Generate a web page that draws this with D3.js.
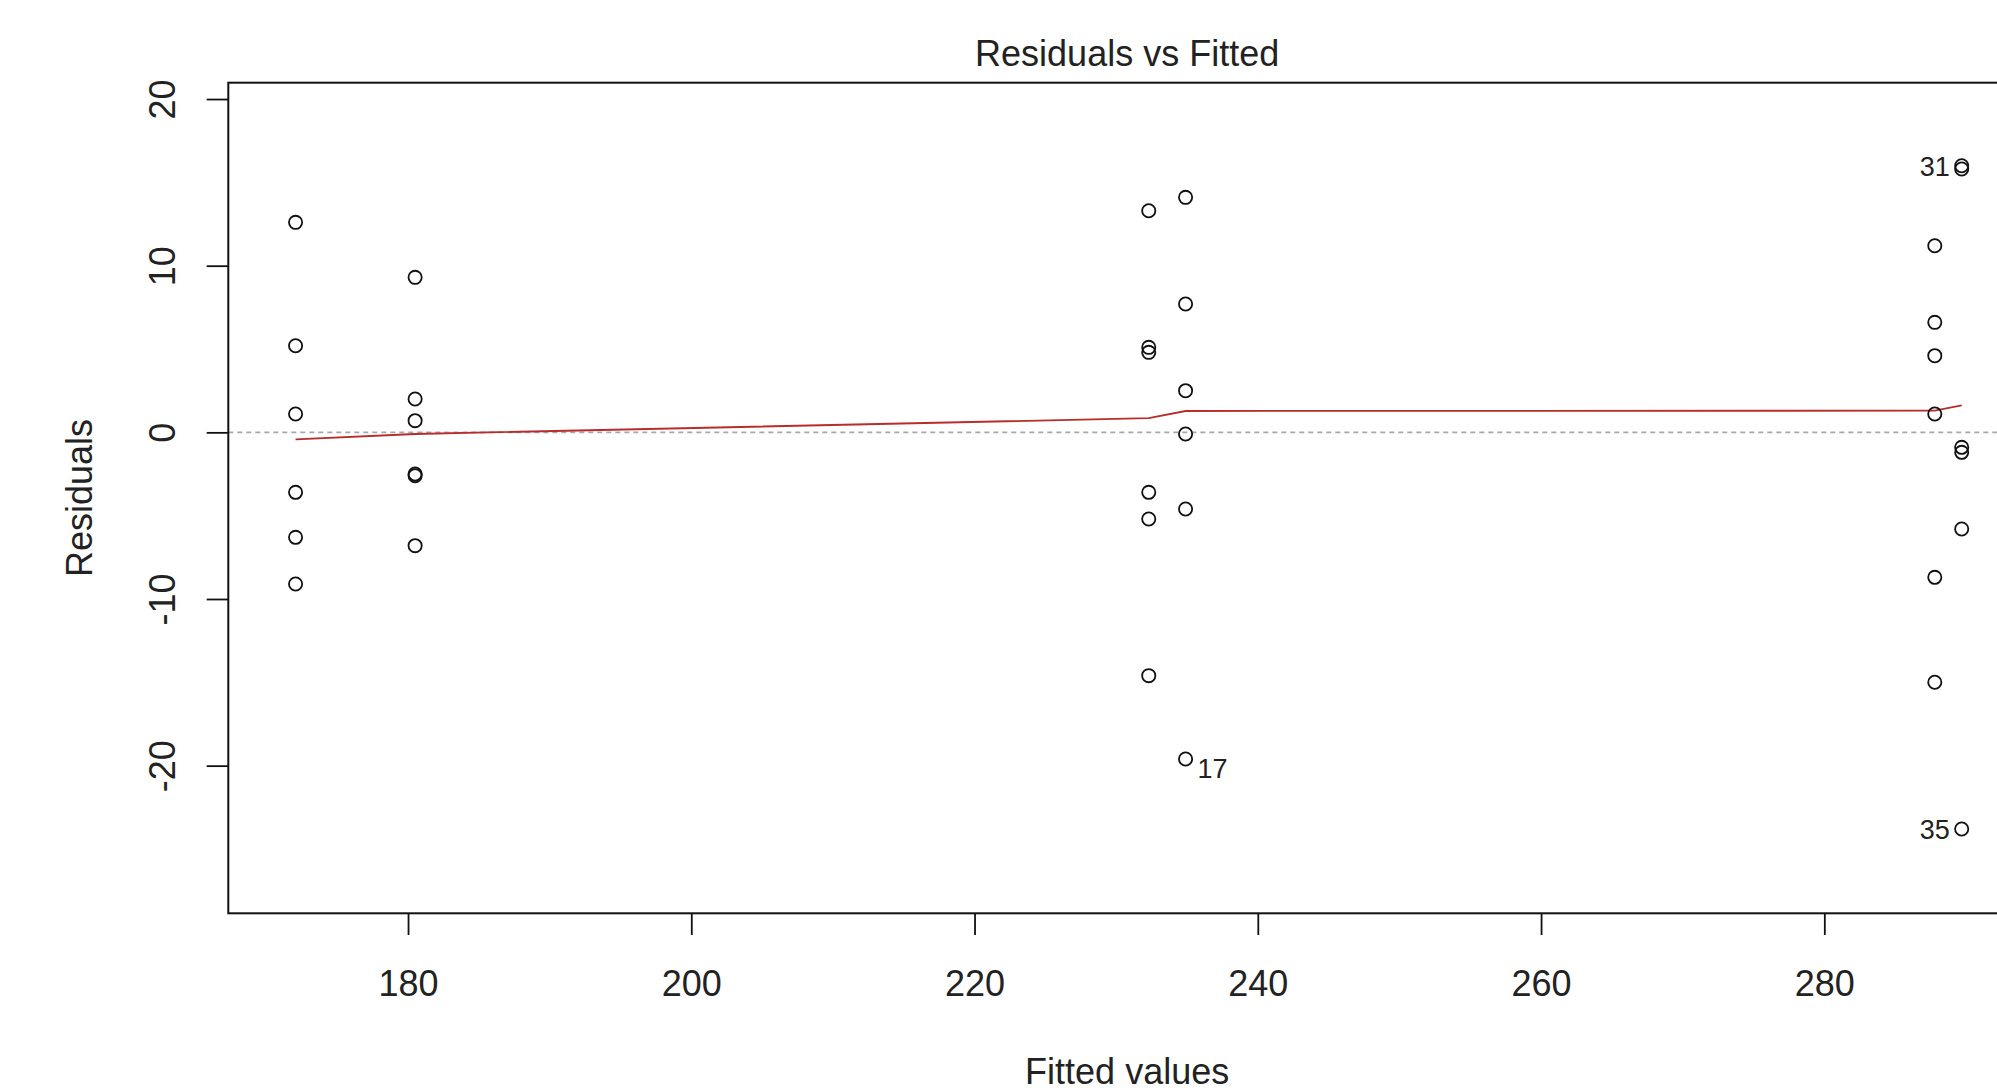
<!DOCTYPE html>
<html>
<head>
<meta charset="utf-8">
<script src="https://cdn.jsdelivr.net/npm/d3@7"></script>
<style>
  html, body { margin: 0; padding: 0; background: #fff; overflow: hidden; }
  svg { display: block; font-family: "Liberation Sans", Arial, sans-serif; }
</style>
</head>
<body>
<svg id="chart" width="1997" height="1091"></svg>
<script>
// ---- data ----
const fittedLevels = [172.06, 180.5, 232.3, 234.9, 287.8, 289.7];
const residualsG1 = [12.6, 5.2, 1.1, -3.6, -6.3, -9.1];
const residualsG2 = [9.3, 2.0, 0.7, -2.5, -2.6, -6.8];
const residualsG3 = [13.3, 5.1, 4.8, -3.6, -5.2, -14.6];
const residualsG4 = [14.1, 7.7, 2.5, -0.1, -4.6, -19.6];
const residualsG5 = [11.2, 6.6, 4.6, 1.1, -8.7, -15.0];
const residualsG6 = [16.0, 15.8, -0.9, -1.2, -5.8, -23.8];
const smoothValues = [-0.42, -0.1, 0.85, 1.28, 1.3, 1.62];
const xTicks = [180, 200, 220, 240, 260, 280];
const yTicks = [-20, -10, 0, 10, 20];
const pointLabels = [
  { id: "31", x: 289.7, y: 16.0, side: "left" },
  { id: "17", x: 234.9, y: -19.6, side: "right" },
  { id: "35", x: 289.7, y: -23.8, side: "left" }
];
const titleText = "Residuals vs Fitted";
const xLabel = "Fitted values";
const yLabel = "Residuals";

(function () {
const residualGroups = [residualsG1, residualsG2, residualsG3, residualsG4, residualsG5, residualsG6];
const points = [];
residualGroups.forEach((g, i) => g.forEach(r => points.push({ x: fittedLevels[i], y: r })));
const smooth = fittedLevels.map((f, i) => ({ x: f, y: smoothValues[i] }));

// ---- layout ----
const svg = d3.select("#chart");
const pLeft = 228.3, pRight = 2026, pTop = 82.7, pBottom = 913.3;
const x = d3.scaleLinear().domain([167.31, 294.24]).range([pLeft, pRight]);
const y = d3.scaleLinear().domain([-28.86, 20.98]).range([pBottom, pTop]);
const font = 36;
const fmt = d => String(d);

// zero reference line
svg.append("line")
  .attr("x1", pLeft).attr("x2", pRight)
  .attr("y1", y(0)).attr("y2", y(0))
  .attr("stroke", "#a8a8a8").attr("stroke-width", 1.6)
  .attr("stroke-dasharray", "5,4");

// smooth line
svg.append("path")
  .datum(smooth)
  .attr("fill", "none")
  .attr("stroke", "#b82c2c")
  .attr("stroke-width", 1.8)
  .attr("d", d3.line().x(d => x(d.x)).y(d => y(d.y)));

// points
svg.append("g").selectAll("circle")
  .data(points).join("circle")
  .attr("cx", d => x(d.x)).attr("cy", d => y(d.y))
  .attr("r", 6.6).attr("fill", "none")
  .attr("stroke", "#111").attr("stroke-width", 1.8);

// point labels
svg.append("g").selectAll("text")
  .data(pointLabels).join("text")
  .attr("x", d => x(d.x) + (d.side === "left" ? -12 : 12))
  .attr("y", d => y(d.y) + (d.side === "right" ? 19 : 10))
  .attr("text-anchor", d => d.side === "left" ? "end" : "start")
  .attr("font-size", 27)
  .attr("fill", "#222")
  .text(d => d.id);

// box
svg.append("rect")
  .attr("x", pLeft).attr("y", pTop)
  .attr("width", pRight - pLeft).attr("height", pBottom - pTop)
  .attr("fill", "none").attr("stroke", "#111").attr("stroke-width", 2);

// x axis
const gx = svg.append("g")
  .attr("transform", `translate(0,${pBottom})`)
  .call(d3.axisBottom(x).tickValues(xTicks).tickSize(21.7).tickSizeOuter(0).tickFormat(fmt));
gx.select(".domain").remove();
gx.selectAll(".tick line").attr("stroke", "#111").attr("stroke-width", 1.8);
gx.selectAll(".tick text")
  .attr("y", 83).attr("dy", 0)
  .attr("font-size", font).attr("font-family", "Liberation Sans, Arial, sans-serif")
  .attr("fill", "#222");

// y axis
const gy = svg.append("g")
  .attr("transform", `translate(${pLeft},0)`)
  .call(d3.axisLeft(y).tickValues(yTicks).tickSize(21.6).tickSizeOuter(0).tickFormat(fmt));
gy.select(".domain").remove();
gy.selectAll(".tick line").attr("stroke", "#111").attr("stroke-width", 1.8);
gy.selectAll(".tick text")
  .attr("x", 0).attr("y", 0).attr("dy", 0)
  .attr("text-anchor", "middle")
  .attr("transform", "translate(-53.3,0) rotate(-90)")
  .attr("font-size", font).attr("font-family", "Liberation Sans, Arial, sans-serif")
  .attr("fill", "#222");

// title
svg.append("text")
  .attr("x", (pLeft + pRight) / 2).attr("y", 66)
  .attr("text-anchor", "middle").attr("font-size", font).attr("fill", "#222")
  .text(titleText);

// x label
svg.append("text")
  .attr("x", (pLeft + pRight) / 2).attr("y", 1084)
  .attr("text-anchor", "middle").attr("font-size", font).attr("fill", "#222")
  .text(xLabel);

// y label
svg.append("text")
  .attr("transform", `translate(92,${(pTop + pBottom) / 2}) rotate(-90)`)
  .attr("text-anchor", "middle").attr("font-size", font).attr("fill", "#222")
  .text(yLabel);
})();
</script>
</body>
</html>
